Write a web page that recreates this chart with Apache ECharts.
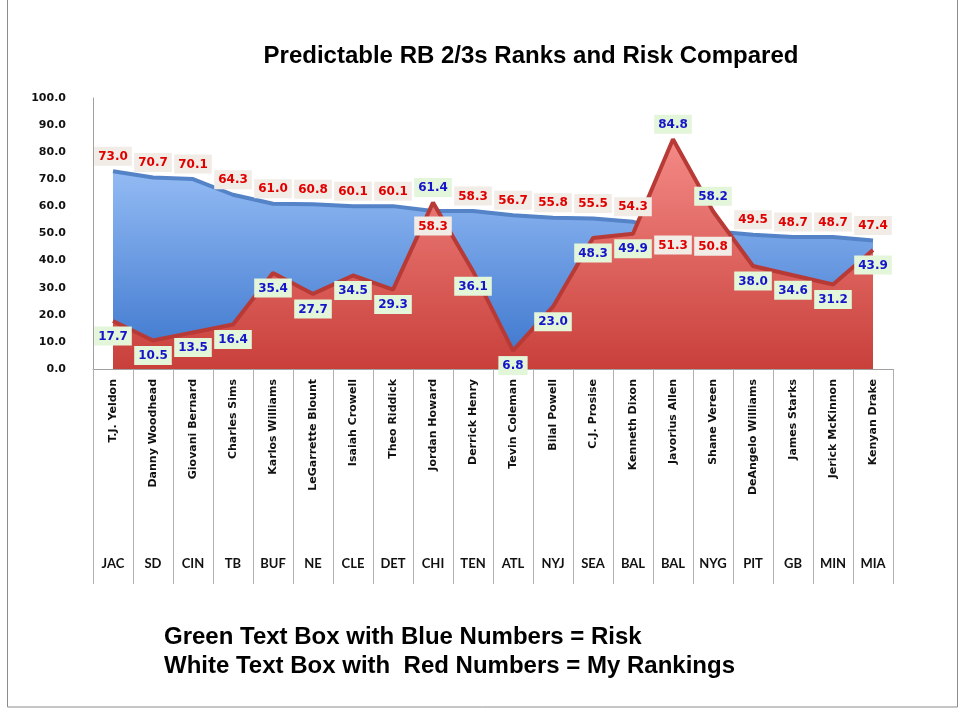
<!DOCTYPE html>
<html>
<head>
<meta charset="utf-8">
<script src="https://cdn.jsdelivr.net/npm/echarts@6/dist/echarts.min.js"></script>
<style>
html,body{margin:0;padding:0;background:#fff;}
#chart{width:960px;height:720px;}
</style>
</head>
<body>
<div id="chart"></div>
<script>
const players = ['T.J. Yeldon','Danny Woodhead','Giovani Bernard','Charles Sims','Karlos Williams','LeGarrette Blount','Isaiah Crowell','Theo Riddick','Jordan Howard','Derrick Henry','Tevin Coleman','Bilal Powell','C.J. Prosise','Kenneth Dixon','Javorius Allen','Shane Vereen','DeAngelo Williams','James Starks','Jerick McKinnon','Kenyan Drake'];
const teams = ['JAC','SD','CIN','TB','BUF','NE','CLE','DET','CHI','TEN','ATL','NYJ','SEA','BAL','BAL','NYG','PIT','GB','MIN','MIA'];
const rankings = [73.0,70.7,70.1,64.3,61.0,60.8,60.1,60.1,58.3,58.3,56.7,55.8,55.5,54.3,51.3,50.8,49.5,48.7,48.7,47.4];
const risk = [17.7,10.5,13.5,16.4,35.4,27.7,34.5,29.3,61.4,36.1,6.8,23.0,48.3,49.9,84.8,58.2,38.0,34.6,31.2,43.9];
const title = 'Predictable RB 2/3s Ranks and Risk Compared';
const note1 = 'Green Text Box with Blue Numbers = Risk';
const note2 = 'White Text Box with  Red Numbers = My Rankings';

const chart = echarts.init(document.getElementById('chart'));
const numFont = 'DejaVu Sans';
const rankLabel = {
  show: true, formatter: p => p.value.toFixed(1),
  color: '#e00000', fontWeight: 'bold', fontSize: 12, fontFamily: numFont,
  backgroundColor: '#f1ece6', padding: [4, 4, 3, 4], distance: 5
};
const riskLabel = {
  show: true, formatter: p => p.value.toFixed(1),
  color: '#1414c8', fontWeight: 'bold', fontSize: 12, fontFamily: numFont,
  backgroundColor: '#e3f6da', padding: [4, 4, 3, 4], distance: 5
};
const hidden = {symbol: 'circle', symbolSize: 1, itemStyle: {color: 'rgba(0,0,0,0)'}};

chart.setOption({
  animation: false,
  title: {
    text: title, left: 526, top: 39, textAlign: 'center',
    textStyle: {fontFamily: 'Liberation Sans, Arial', fontWeight: 'bold', fontSize: 24, color: '#000'}
  },
  grid: {left: 93, right: 67, top: 98, bottom: 351},
  xAxis: [{
    type: 'category', data: players, boundaryGap: true,
    axisLine: {lineStyle: {color: '#a0a0a0'}},
    axisTick: {show: true, length: 215, lineStyle: {color: '#b0b0b0'}},
    axisLabel: {interval: 0, rotate: 90, margin: 10, color: '#111',
      fontFamily: numFont, fontWeight: 'bold', fontSize: 11}
  }, {
    type: 'category', data: teams, position: 'bottom', boundaryGap: true,
    axisLine: {show: false}, axisTick: {show: false},
    axisLabel: {interval: 0, margin: 188, color: '#111',
      fontFamily: 'Lato, Liberation Sans, Arial', fontWeight: 'bold', fontSize: 13}
  }],
  yAxis: {
    type: 'value', min: 0, max: 100, interval: 10,
    axisLine: {show: true, lineStyle: {color: '#a0a0a0'}},
    axisTick: {show: false},
    splitLine: {show: false},
    axisLabel: {formatter: v => v.toFixed(1), color: '#111', margin: 27,
      fontFamily: numFont, fontWeight: 'bold', fontSize: 11}
  },
  series: [{
    name: 'My Rankings', type: 'line', xAxisIndex: 0, z: 2,
    data: rankings, ...hidden,
    lineStyle: {color: '#5483c8', width: 4},
    areaStyle: {opacity: 1, color: new echarts.graphic.LinearGradient(0, 0, 0, 1, [
      {offset: 0, color: '#93bbf4'}, {offset: 1, color: '#3a74cc'}])}
  }, {
    name: 'Risk', type: 'line', xAxisIndex: 0, z: 3,
    data: risk, ...hidden,
    lineStyle: {color: '#b83a36', width: 4},
    areaStyle: {opacity: 1, color: new echarts.graphic.LinearGradient(0, 0, 0, 1, [
      {offset: 0, color: '#f48a86'}, {offset: 1, color: '#c9403b'}])}
  }, {
    name: 'My Rankings labels', type: 'line', xAxisIndex: 0, z: 6,
    data: rankings.map((v, i) => ({value: v, label: {position: v >= risk[i] ? 'top' : 'bottom'}})),
    ...hidden, lineStyle: {width: 0, opacity: 0},
    label: rankLabel
  }, {
    name: 'Risk labels', type: 'line', xAxisIndex: 0, z: 6,
    data: risk.map((v, i) => ({value: v, label: {position: rankings[i] >= v ? 'bottom' : 'top'}})),
    ...hidden, lineStyle: {width: 0, opacity: 0},
    label: riskLabel
  }],
  graphic: [{
    type: 'rect', shape: {x: 7.5, y: -2, width: 950, height: 709},
    style: {fill: 'none', stroke: '#8c8c8c', lineWidth: 1}, silent: true
  }, {
    type: 'text', left: 164, top: 625,
    style: {text: note1, fontFamily: 'Liberation Sans, Arial', fontWeight: 'bold', fontSize: 24, fill: '#000'}
  }, {
    type: 'text', left: 164, top: 654,
    style: {text: note2, fontFamily: 'Liberation Sans, Arial', fontWeight: 'bold', fontSize: 24, fill: '#000'}
  }]
});
</script>
</body>
</html>
